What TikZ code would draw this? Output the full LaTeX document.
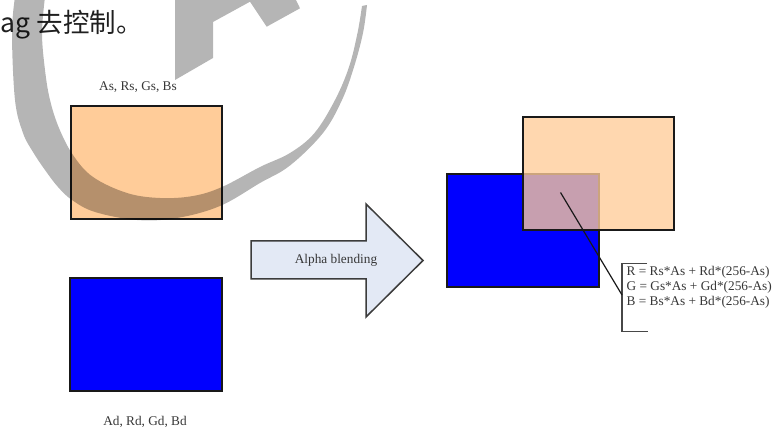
\documentclass[tikz,border=0pt]{standalone}
\usepackage{fontspec}
\setmainfont{Liberation Serif}
\newfontfamily\cjkfont{Noto Sans CJK SC}
\definecolor{srcorange}{RGB}{255,204,153}
\definecolor{dstblue}{RGB}{0,0,255}
\definecolor{arrowfill}{RGB}{227,233,245}
\definecolor{edgecol}{RGB}{25,25,25}
\definecolor{lblcol}{RGB}{55,55,55}
\tikzset{
  colorbox/.style={draw=edgecol, line width=1.5pt, minimum width=151pt, minimum height=113pt, inner sep=0pt, outer sep=0pt},
  lbltext/.style={font=\fontsize{13.3}{15}\selectfont, text=lblcol, inner sep=0pt},
  arrowbody/.style={draw=edgecol!85, fill=arrowfill, line width=1.5pt, line join=miter},
  wm/.style={fill=black, fill opacity=0.29},
  bracketline/.style={draw=edgecol!80, line width=1.6pt},
  leaderline/.style={draw=edgecol, line width=1.2pt},
}
\begin{document}
\begin{tikzpicture}[x=1pt,y=-1pt]
\useasboundingbox (0,0) rectangle (774,430);
\clip (0,0) rectangle (774,430);

% cropped heading text
\node[anchor=base west, inner sep=0pt, font=\cjkfont\fontsize{26.5}{30}\selectfont, text=black!88] (head) at (0.5,32.5) {ag 去控制。};

% left: source and destination
\node[lbltext] (srclbl) at (138,87) {As, Rs, Gs, Bs};
\node[colorbox, fill=srcorange] (src) at (146.5,162.5) {};
\node[colorbox, fill=dstblue, minimum width=152pt] (dst) at (146,334.5) {};
\node[lbltext] (dstlbl) at (145,422) {Ad, Rd, Gd, Bd};

% big arrow
\draw[arrowbody] (251,241) -- (366,241) -- (366,204) -- (423,260.5) -- (366,317) -- (366,279) -- (251,279) -- cycle;
\node[lbltext] (blend) at (336,260) {Alpha blending};

% right: blended result
\node[colorbox, fill=dstblue, minimum width=152pt] (dst2) at (523,230.5) {};
\node[colorbox, fill=srcorange, fill opacity=0.78] (src2) at (598.5,173.5) {};

% callout
\coordinate (tip) at (560.5,192.5);
\coordinate (bta) at (647,263.5);
\coordinate (btb) at (622,263.5);
\coordinate (bbb) at (622,331.5);
\coordinate (bba) at (648,331.5);
\coordinate (join) at (622,295);
\draw[bracketline] (bta) -- (btb) -- (bbb) -- (bba);
\draw[leaderline] (tip) -- (join);
\node[lbltext, anchor=west, align=left] (eq) at (626.5,287) {R = Rs*As + Rd*(256-As)\\G = Gs*As + Gd*(256-As)\\B = Bs*As + Bd*(256-As)};

% watermark
\fill[wm] plot[smooth, tension=0.6] coordinates {(15,-3) (12,33) (15,100) (23,133) (33,152) (45,170) (58,187) (72,200) (95,212) (137,220) (177,218) (220,206) (260,183) (290,165.5) (323,133) (342,100) (354,67) (363,33) (367,5)}
  -- plot[smooth, tension=0.6] coordinates {(362,6) (357.5,33) (349,67) (335,100) (314.5,133) (290,153) (260,167) (222,187) (193,196) (160,198) (127,193) (93,177) (73,155) (59,128) (50,100) (45,70) (42,33) (45,-3)} -- cycle;
\fill[wm] (175,-2) -- (175,80) -- (213,58) -- (213,22) -- (250,1.7) -- (266.7,26.7) -- (300,8.3) -- (295,-2) -- cycle;
\end{tikzpicture}
\end{document}
